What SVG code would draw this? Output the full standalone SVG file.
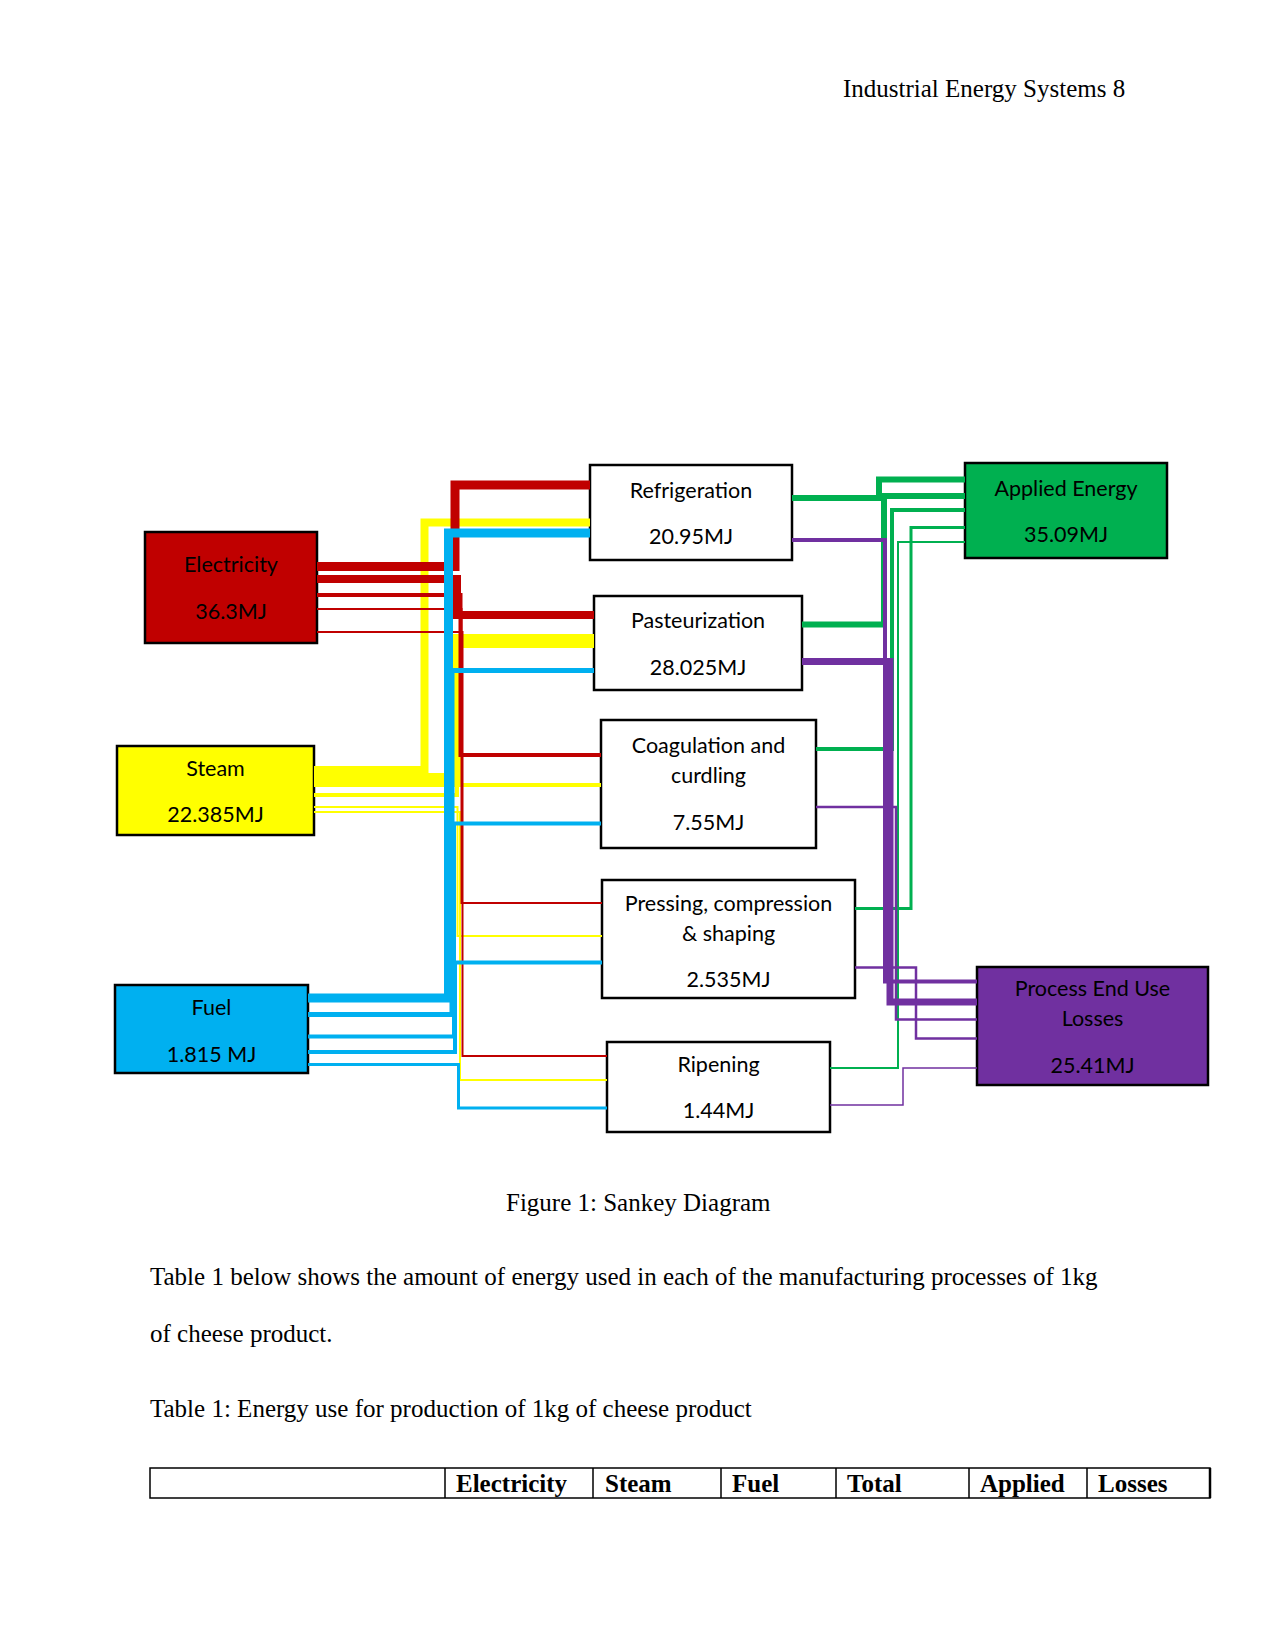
<svg xmlns="http://www.w3.org/2000/svg" width="1275" height="1650" viewBox="0 0 1275 1650">
<style>
.doc{font-family:"Liberation Serif","Times New Roman",serif;font-size:25px;fill:#000}
.th{font-family:"Liberation Serif","Times New Roman",serif;font-size:25px;font-weight:bold;fill:#000}
.box{stroke:#000;stroke-width:2.5}
.lbl{font-family:Lato,"Liberation Sans",sans-serif;font-size:21.5px;fill:#000;text-anchor:middle}
.c{fill:none;stroke-linejoin:miter;stroke-linecap:butt}
.r{stroke:#C00000}.y{stroke:#FFFF00}.b{stroke:#00B0F0}.g{stroke:#00B050}.p{stroke:#7030A0}
</style>
<rect width="1275" height="1650" fill="#fff"/>
<text class="doc" x="843" y="97">Industrial Energy Systems 8</text>

<g id="electricity"><rect class="box" x="145" y="532" width="172" height="111" fill="#C00000"/><text class="lbl" x="231" y="572">Electricity</text><text class="lbl" x="231" y="619">36.3MJ</text></g>
<g id="steam"><rect class="box" x="117" y="746" width="197" height="89" fill="#FFFF00"/><text class="lbl" x="215.5" y="776">Steam</text><text class="lbl" x="215.5" y="822">22.385MJ</text></g>
<g id="fuel"><rect class="box" x="115" y="985" width="193" height="88" fill="#00B0F0"/><text class="lbl" x="211.5" y="1015">Fuel</text><text class="lbl" x="211.5" y="1062">1.815 MJ</text></g>
<g id="refrigeration"><rect class="box" x="590" y="465" width="202" height="95" fill="#fff"/><text class="lbl" x="691" y="498">Refrigeration</text><text class="lbl" x="691" y="544">20.95MJ</text></g>
<g id="pasteurization"><rect class="box" x="594" y="596" width="208" height="94" fill="#fff"/><text class="lbl" x="698" y="628">Pasteurization</text><text class="lbl" x="698" y="675">28.025MJ</text></g>
<g id="coagulation"><rect class="box" x="601" y="720" width="215" height="128" fill="#fff"/><text class="lbl" x="708.5" y="753">Coagulation and</text><text class="lbl" x="708.5" y="783">curdling</text><text class="lbl" x="708.5" y="830">7.55MJ</text></g>
<g id="pressing"><rect class="box" x="602" y="880" width="253" height="118" fill="#fff"/><text class="lbl" x="728.5" y="911">Pressing, compression</text><text class="lbl" x="728.5" y="941">&amp; shaping</text><text class="lbl" x="728.5" y="987">2.535MJ</text></g>
<g id="ripening"><rect class="box" x="607" y="1042" width="223" height="90" fill="#fff"/><text class="lbl" x="718.5" y="1072">Ripening</text><text class="lbl" x="718.5" y="1118">1.44MJ</text></g>
<g id="applied"><rect class="box" x="965" y="463" width="202" height="95" fill="#00B050"/><text class="lbl" x="1066" y="496">Applied Energy</text><text class="lbl" x="1066" y="542">35.09MJ</text></g>
<g id="losses"><rect class="box" x="977" y="967" width="231" height="118" fill="#7030A0"/><text class="lbl" x="1092.5" y="996">Process End Use</text><text class="lbl" x="1092.5" y="1026">Losses</text><text class="lbl" x="1092.5" y="1073">25.41MJ</text></g>

<g id="connectors">
<path class="c y" stroke-width="8" d="M314,770 H424.5 V522.5 H590"/>
<path class="c y" stroke-width="14" d="M314,780 H456 V641 H594"/>
<path class="c y" stroke-width="4" d="M314,795 H457 V785 H601"/>
<path class="c y" stroke-width="2" d="M314,807 H457.5 V936 H602"/>
<path class="c y" stroke-width="2" d="M314,812 H460 V1080 H607"/>
<path class="c r" stroke-width="9" d="M317,566.5 H455 V485 H590"/>
<path class="c r" stroke-width="8" d="M317,579 H457 V615 H594"/>
<path class="c r" stroke-width="4" d="M317,595 H460.5 V755 H601"/>
<path class="c r" stroke-width="2" d="M317,609 H461.5 V903 H602"/>
<path class="c r" stroke-width="2" d="M317,632 H462.5 V1056 H607"/>
<path class="c b" stroke-width="9" d="M308,998 H448.5 V533 H590"/>
<path class="c b" stroke-width="5" d="M308,1014.5 H452 V670.5 H594"/>
<path class="c b" stroke-width="4" d="M308,1036.5 H454 V823.5 H601"/>
<path class="c b" stroke-width="4" d="M308,1052 H455 V962.5 H602"/>
<path class="c b" stroke-width="3" d="M308,1064.5 H458.5 V1108 H607"/>
<path class="c g" stroke-width="6" d="M792,498 H879 V479.5 H965"/>
<path class="c g" stroke-width="6" d="M802,624.5 H884 V496 H965"/>
<path class="c g" stroke-width="4" d="M816,749 H892 V510 H965"/>
<path class="c g" stroke-width="3" d="M855,908.5 H911 V527.5 H965"/>
<path class="c g" stroke-width="2" d="M830,1068 H898 V542 H965"/>
<path class="c p" stroke-width="4" d="M792,540 H885 V981.5 H977"/>
<path class="c p" stroke-width="7" d="M802,661.5 H890 V1002 H977"/>
<path class="c p" stroke-width="2.5" d="M816,807 H896 V1019.5 H977"/>
<path class="c p" stroke-width="2.5" d="M855,967.5 H916 V1038.5 H977"/>
<path class="c p" stroke-width="1.5" d="M830,1105 H903 V1068 H977"/>
</g>

<text class="doc" x="506" y="1211">Figure 1: Sankey Diagram</text>
<text class="doc" x="150" y="1285">Table 1 below shows the amount of energy used in each of the manufacturing processes of 1kg</text>
<text class="doc" x="150" y="1342">of cheese product.</text>
<text class="doc" x="150" y="1417">Table 1: Energy use for production of 1kg of cheese product</text>

<g id="table" stroke="#000" stroke-width="1.5" fill="none">
<rect x="150" y="1468" width="1060" height="30"/>
<path d="M445,1468 V1498 M593,1468 V1498 M721,1468 V1498 M836,1468 V1498 M969,1468 V1498 M1087,1468 V1498"/>
<path d="M1210,1468 V1498" stroke-width="2.5"/>
</g>
<text class="th" x="456" y="1492">Electricity</text>
<text class="th" x="605" y="1492">Steam</text>
<text class="th" x="732" y="1492">Fuel</text>
<text class="th" x="847" y="1492">Total</text>
<text class="th" x="980" y="1492">Applied</text>
<text class="th" x="1098" y="1492">Losses</text>
</svg>
